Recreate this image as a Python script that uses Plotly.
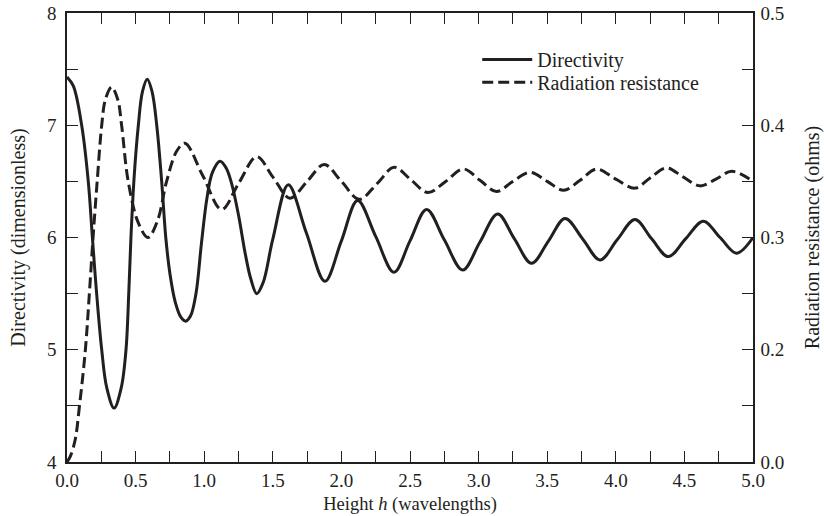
import plotly.graph_objects as go

# Directivity (left axis)
h_dir = [0, 0.046, 0.107, 0.155, 0.185, 0.216, 0.253, 0.29, 0.343, 0.395, 0.43, 0.45, 0.466, 0.49, 0.52,
         0.55, 0.585, 0.62, 0.654, 0.69, 0.72, 0.75, 0.79, 0.83, 0.865, 0.9, 0.94, 0.98, 1.02, 1.06,
         1.115, 1.16, 1.2, 1.25, 1.3, 1.34, 1.383, 1.43, 1.5, 1.613, 1.745, 1.88, 2.0, 2.118, 2.25,
         2.383, 2.5, 2.621, 2.75, 2.884, 3.01, 3.139, 3.26, 3.386, 3.51, 3.63, 3.76, 3.885, 4.01,
         4.14, 4.26, 4.383, 4.51, 4.638, 4.76, 4.88, 5.0]
directivity = [7.43, 7.35, 7.0, 6.5, 6.0, 5.5, 5.0, 4.66, 4.48, 4.66, 5.0, 5.5, 6.0, 6.55, 7.0,
               7.3, 7.41, 7.3, 7.0, 6.5, 6.0, 5.68, 5.42, 5.29, 5.255, 5.30, 5.5, 5.95, 6.35, 6.58,
               6.68, 6.62, 6.48, 6.2, 5.85, 5.63, 5.50, 5.60, 5.985, 6.47, 6.04, 5.61, 5.97, 6.33, 6.01,
               5.69, 5.97, 6.25, 5.98, 5.71, 5.96, 6.21, 5.99, 5.77, 5.97, 6.17, 5.985, 5.80, 5.98,
               6.16, 5.99, 5.83, 5.99, 6.145, 6.0, 5.86, 6.0]

# Radiation resistance (right axis, in the axis's own scale)
h_res = [0, 0.024, 0.06, 0.09, 0.134, 0.163, 0.19, 0.22, 0.253, 0.28, 0.325, 0.37, 0.398, 0.446, 0.52,
         0.59, 0.66, 0.726, 0.8, 0.86, 0.99, 1.127, 1.25, 1.383, 1.5, 1.625, 1.75, 1.875, 2.0, 2.13,
         2.26, 2.385, 2.51, 2.63, 2.76, 2.89, 3.01, 3.13, 3.25, 3.375, 3.5, 3.62, 3.74, 3.86, 4.0,
         4.14, 4.25, 4.37, 4.49, 4.615, 4.73, 4.845, 5.0]
resistance = [0.100, 0.105, 0.120, 0.149, 0.200, 0.250, 0.300, 0.350, 0.400, 0.423, 0.434, 0.423, 0.400, 0.350, 0.313,
              0.300, 0.315, 0.350, 0.377, 0.384, 0.355, 0.325, 0.348, 0.372, 0.354, 0.335, 0.350, 0.365, 0.350, 0.334,
              0.348, 0.3625, 0.351, 0.340, 0.350, 0.361, 0.351, 0.341, 0.350, 0.358, 0.350, 0.342, 0.351, 0.361, 0.352,
              0.344, 0.353, 0.362, 0.354, 0.346, 0.352, 0.359, 0.350]

x_ticks = [i * 0.25 for i in range(21)]
x_labels = [f"{v:.1f}" if i % 2 == 0 else "" for i, v in enumerate(x_ticks)]
y_ticks = [4, 4.5, 5, 5.5, 6, 6.5, 7, 7.5, 8]
y_labels = ["4", "", "5", "", "6", "", "7", "", "8"]
y2_ticks = [0.1, 0.15, 0.2, 0.25, 0.3, 0.35, 0.4, 0.45, 0.5]
y2_labels = ["0.0", "", "0.2", "", "0.3", "", "0.4", "", "0.5"]

INK = "#231f20"
FONT = "Liberation Serif"

fig = go.Figure()
fig.add_trace(go.Scatter(x=h_dir, y=directivity, name="Directivity", mode="lines", legend="legend",
                         line=dict(color=INK, width=3, shape="spline", smoothing=1)))
fig.add_trace(go.Scatter(x=h_res, y=resistance, name="Radiation resistance", mode="lines", yaxis="y2",
                         legend="legend2",
                         line=dict(color=INK, width=3, dash="11px,5px", shape="spline", smoothing=1)))

axis_common = dict(showline=True, linecolor=INK, linewidth=1.5, ticks="inside", ticklen=11,
                   tickwidth=1, tickcolor=INK, showgrid=False, zeroline=False, automargin=False,
                   tickfont=dict(family=FONT, size=19, color=INK))

legend_common = dict(xanchor="left", yanchor="top", bgcolor="rgba(0,0,0,0)", itemwidth=50,
                     font=dict(family=FONT, size=20, color=INK))

fig.update_layout(
    width=824, height=516,
    margin=dict(l=67, r=71, t=13, b=54),
    paper_bgcolor="white", plot_bgcolor="white",
    font=dict(family=FONT, color=INK, size=19),
    showlegend=True,
    legend=dict(x=0.598, y=0.94, **legend_common),
    legend2=dict(x=0.598, y=0.889, **legend_common),
    xaxis=dict(range=[0, 5], tickvals=x_ticks, ticktext=x_labels, mirror="ticks",
               title=dict(text="Height <i>h</i> (wavelengths)", font=dict(family=FONT, size=18.5, color=INK), standoff=8),
               **axis_common),
    yaxis=dict(range=[4, 8], tickvals=y_ticks, ticktext=y_labels, ticklabelstandoff=5,
               title=dict(text="Directivity (dimensionless)", font=dict(family=FONT, size=20, color=INK), standoff=16),
               **axis_common),
    yaxis2=dict(range=[0.1, 0.5], tickvals=y2_ticks, ticktext=y2_labels, overlaying="y", side="right",
                ticklabelstandoff=2,
                title=dict(text="Radiation resistance (ohms)", font=dict(family=FONT, size=20, color=INK), standoff=23),
                **axis_common),
)

fig.write_html("out.html", config={"displayModeBar": False},
               post_script="document.body.style.margin='0';")
